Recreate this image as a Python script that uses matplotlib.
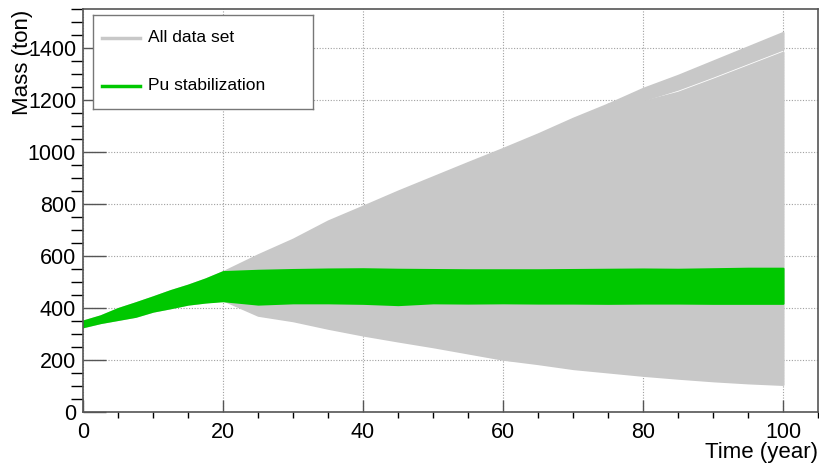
import matplotlib
matplotlib.use("Agg")
import matplotlib.pyplot as plt
import numpy as np
from matplotlib.ticker import MultipleLocator

plt.rcParams['font.family'] = ['Liberation Sans', 'DejaVu Sans']

# temps (annees) et enveloppes des courbes
t = [0, 2.5, 5, 7.5, 10, 12.5, 15, 17.5, 20, 25, 30, 35, 40, 45, 50, 55, 60,
     65, 70, 75, 80, 85, 90, 95, 100]

# bande verte : stabilisation du Pu
pu_hi = [350, 370, 398, 420, 443, 467, 488, 512, 540, 545, 548, 550, 551, 549,
         548, 547, 547, 547, 548, 549, 550, 549, 551, 553, 553]
pu_lo = [328, 344, 356, 368, 388, 401, 415, 423, 428, 415, 420, 420, 418, 413,
         420, 419, 420, 419, 419, 418, 419, 419, 418, 418, 418]

# ensemble des donnees (gris) : corps principal
all_hi = [350, 370, 398, 420, 443, 467, 488, 512, 540, 605, 665, 735, 792, 850,
          905, 960, 1014, 1070, 1130, 1185, 1195, 1230, 1280, 1332, 1384]
all_lo = [328, 344, 356, 368, 388, 401, 415, 423, 431, 372, 351, 322, 296, 273,
          251, 227, 203, 195, 183, 172, 160, 150, 141, 133, 127]

# paquet de courbes du haut
t_top = [75, 80, 85, 90, 95, 100]
top_hi = [1185, 1245, 1295, 1350, 1405, 1460]
top_lo = [1150, 1200, 1242, 1292, 1344, 1396]

# paquet de courbes du bas
t_bot = [60, 65, 70, 75, 80, 85, 90, 95, 100]
bot_hi = [212, 198, 180, 168, 156, 146, 137, 129, 123]
bot_lo = [203, 186, 167, 154, 141, 130, 120, 112, 106]

gris = '#c8c8c8'
vert = '#00c800'

fig = plt.figure(figsize=(8.2, 4.63), dpi=100)
ax = fig.add_axes([83/820, 51/463, 735/820, 403/463])

ax.fill_between(t, all_lo, all_hi, color=gris, lw=1.5, zorder=2)
ax.fill_between(t_top, top_lo, top_hi, color=gris, lw=1.5, zorder=2)
ax.fill_between(t_bot, bot_lo, bot_hi, color=gris, lw=1.5, zorder=2)
ax.fill_between(t, pu_lo, pu_hi, color=vert, lw=1.5, zorder=3)

ax.set_xlim(0, 105)
ax.set_ylim(0, 1550)

ax.xaxis.set_major_locator(MultipleLocator(20))
ax.xaxis.set_minor_locator(MultipleLocator(5))
ax.yaxis.set_major_locator(MultipleLocator(200))
ax.yaxis.set_minor_locator(MultipleLocator(50))

ax.grid(True, which='major', color='#a0a0a0', ls=(0, (1, 1.5)), lw=0.8, zorder=0)
ax.set_axisbelow(True)

cadre = '#555555'
for s in ax.spines.values():
    s.set_color(cadre)
    s.set_linewidth(1.2)
    s.set_zorder(5)

ax.tick_params(axis='both', direction='in', colors=cadre, labelcolor='black', labelsize=15.5)
ax.tick_params(axis='y', which='major', length=16.5, width=1.0, pad=5)
ax.tick_params(axis='y', which='minor', length=8.5, width=1.0)
ax.tick_params(axis='x', which='major', length=8.5, width=1.0, pad=7)
ax.tick_params(axis='x', which='minor', length=4.3, width=1.0)

fig.text(12/820, 1 - 10/463, 'Mass (ton)', rotation=90, ha='left', va='top', fontsize=16)
fig.text(818/820, 1 - 458/463, 'Time (year)', ha='right', va='baseline', fontsize=16)

# legende
lg_ax = fig.add_axes([93/820, 1 - 109/463, 220/820, 94/463])
lg_ax.set_xlim(0, 220)
lg_ax.set_ylim(94, 0)
lg_ax.set_xticks([])
lg_ax.set_yticks([])
for s in lg_ax.spines.values():
    s.set_color('#777777')
    s.set_linewidth(1.0)
lg_ax.plot([9, 47], [23, 23], color=gris, lw=2.5)
lg_ax.plot([9, 47], [71, 71], color=vert, lw=2.5)
lg_ax.text(55, 23, 'All data set', va='center', ha='left', fontsize=12.5)
lg_ax.text(55, 71, 'Pu stabilization', va='center', ha='left', fontsize=12.5)

fig.savefig('out.png', dpi=100)
